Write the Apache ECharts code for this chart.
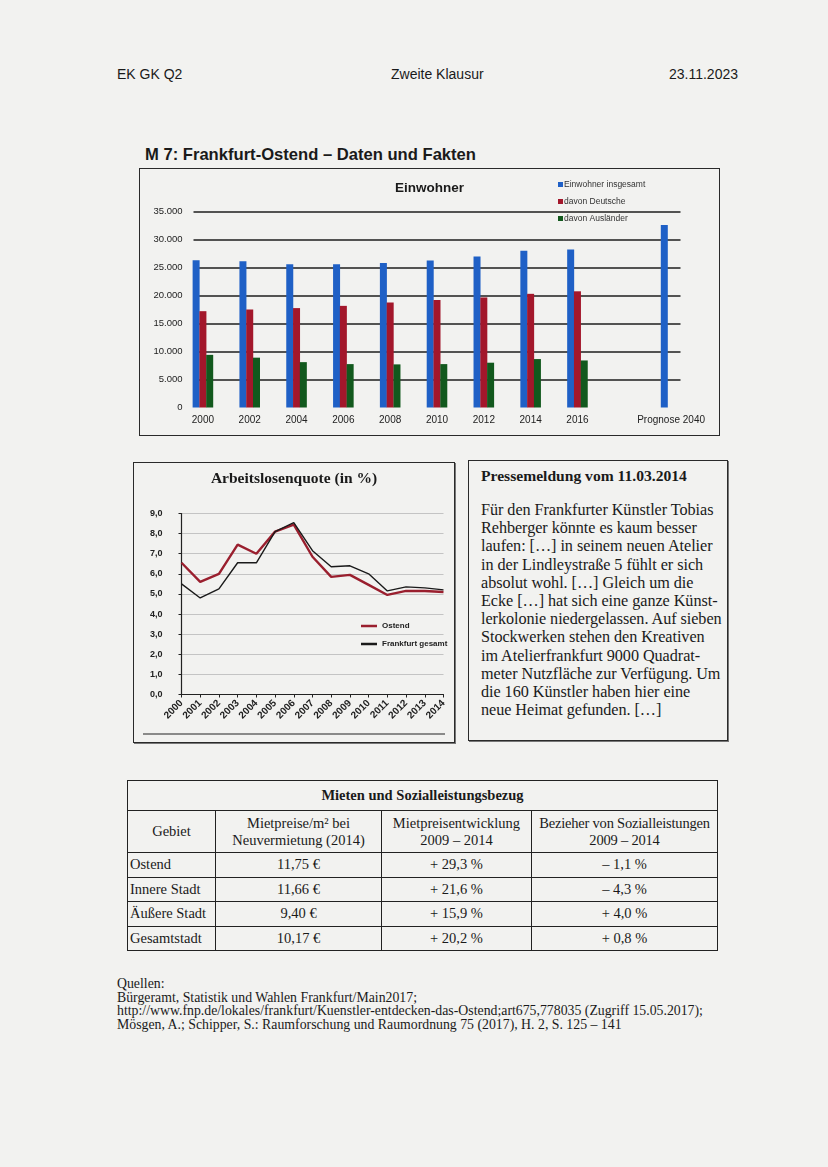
<!DOCTYPE html>
<html><head><meta charset="utf-8">
<script src="https://cdn.jsdelivr.net/npm/echarts@6/dist/echarts.min.js"></script>
<style>
html,body{margin:0;padding:0;}
body{width:828px;height:1167px;background:#f2f2f0;position:relative;overflow:hidden;font-family:'Liberation Sans',Arial,sans-serif;color:#1a1a1a;}
.abs{position:absolute;white-space:nowrap;}
.hdr{font-size:14px;top:66px;}
#barBox{position:absolute;left:139px;top:168px;width:581px;height:268px;border:1.5px solid #2a2a2a;box-sizing:border-box;}
#lineBox{position:absolute;left:133px;top:462px;width:322px;height:281px;border:1.5px solid #2a2a2a;box-sizing:border-box;box-shadow:1px 1px 0 #777;}
#press{position:absolute;left:468px;top:460px;width:260px;height:281px;border:1.5px solid #2a2a2a;box-sizing:border-box;box-shadow:1px 1px 0 #777;font-family:'Liberation Serif','Times New Roman',serif;padding:6px 0 0 12px;}
#press .t{font-weight:bold;font-size:15.6px;line-height:18px;}
#press .b{font-size:16.2px;line-height:18.2px;margin-top:16px;white-space:nowrap;letter-spacing:-0.05px;}
#tbl{position:absolute;left:127px;top:780px;border-collapse:collapse;font-family:'Liberation Serif','Times New Roman',serif;font-size:14.5px;table-layout:fixed;}
#tbl td{border:1.2px solid #222;padding:0 2px;text-align:center;line-height:17px;white-space:nowrap;}
#tbl td.l{text-align:left;}
#src{position:absolute;left:117px;top:977px;font-family:'Liberation Serif','Times New Roman',serif;font-size:13.8px;line-height:13.5px;white-space:nowrap;}
</style></head><body>
<div class="abs hdr" style="left:117px;">EK GK Q2</div>
<div class="abs hdr" style="left:391px;">Zweite Klausur</div>
<div class="abs hdr" style="right:90px;">23.11.2023</div>
<div class="abs" style="left:145px;top:145px;font-size:16.6px;font-weight:bold;">M 7: Frankfurt-Ostend – Daten und Fakten</div>
<div id="barBox"><div id="bar" style="width:100%;height:100%;"></div></div>
<div id="lineBox"><div id="line" style="width:100%;height:100%;"></div></div>
<div id="press"><div class="t">Pressemeldung vom 11.03.2014</div><div class="b" id="pressBody"></div></div>
<table id="tbl"></table>
<div id="src"></div>
<script>
// ---- Einwohner (bar chart) ----
const popCategories = ['2000','2002','2004','2006','2008','2010','2012','2014','2016','','Prognose 2040'];
const popTotal   = [26300, 26100, 25600, 25600, 25800, 26250, 26950, 28000, 28200, null, 32600];
const popGerman  = [17200, 17500, 17750, 18150, 18750, 19200, 19650, 20300, 20750, null, null];
const popForeign = [9400, 8900, 8100, 7750, 7700, 7750, 8000, 8650, 8400, null, null];
const popSeriesNames = ['Einwohner insgesamt','davon Deutsche','davon Ausländer'];

// ---- Arbeitslosenquote (line chart) ----
const uYears = ['2000','2001','2002','2003','2004','2005','2006','2007','2008','2009','2010','2011','2012','2013','2014'];
const uOstend    = [6.55, 5.6, 6.0, 7.45, 7.0, 8.1, 8.45, 6.85, 5.85, 5.95, 5.45, 4.95, 5.15, 5.15, 5.1];
const uFrankfurt = [5.5, 4.8, 5.25, 6.55, 6.55, 8.1, 8.55, 7.15, 6.35, 6.4, 6.0, 5.15, 5.35, 5.3, 5.2];
const uSeriesNames = ['Ostend','Frankfurt gesamt'];

// ---- Table ----
const tblRegions = ['Ostend','Innere Stadt','Äußere Stadt','Gesamtstadt'];
const tblRent    = ['11,75 €','11,66 €','9,40 €','10,17 €'];
const tblRentDev = ['+ 29,3 %','+ 21,6 %','+ 15,9 %','+ 20,2 %'];
const tblWelfare = ['– 1,1 %','– 4,3 %','+ 4,0 %','+ 0,8 %'];

// ---- Texts ----
const pressLines = [
 'Für den Frankfurter Künstler Tobias',
 'Rehberger könnte es kaum besser',
 'laufen: […] in seinem neuen Atelier',
 'in der Lindleystraße 5 fühlt er sich',
 'absolut wohl. […] Gleich um die',
 'Ecke […] hat sich eine ganze Künst-',
 'lerkolonie niedergelassen. Auf sieben',
 'Stockwerken stehen den Kreativen',
 'im Atelierfrankfurt 9000 Quadrat-',
 'meter Nutzfläche zur Verfügung. Um',
 'die 160 Künstler haben hier eine',
 'neue Heimat gefunden. […]'
];
const sourceLines = [
 'Quellen:',
 'Bürgeramt, Statistik und Wahlen Frankfurt/Main2017;',
 'http://www.fnp.de/lokales/frankfurt/Kuenstler-entdecken-das-Ostend;art675,778035 (Zugriff 15.05.2017);',
 'Mösgen, A.; Schipper, S.: Raumforschung und Raumordnung 75 (2017), H. 2, S. 125 – 141'
];

document.getElementById('pressBody').innerHTML = pressLines.join('<br>');
document.getElementById('src').innerHTML = sourceLines.join('<br>');

// table
(function(){
  let h = '<colgroup><col style="width:88px"><col style="width:166px"><col style="width:150px"><col style="width:186px"></colgroup>';
  h += '<tr style="height:30px"><td colspan="4" style="font-weight:bold">Mieten und Sozialleistungsbezug</td></tr>';
  h += '<tr style="height:42px"><td>Gebiet</td><td>Mietpreise/m² bei<br>Neuvermietung (2014)</td><td>Mietpreisentwicklung<br>2009 – 2014</td><td style="letter-spacing:-0.2px">Bezieher von Sozialleistungen<br>2009 – 2014</td></tr>';
  for (let i=0;i<tblRegions.length;i++){
    h += '<tr style="height:24.5px"><td class="l">'+tblRegions[i]+'</td><td>'+tblRent[i]+'</td><td>'+tblRentDev[i]+'</td><td>'+tblWelfare[i]+'</td></tr>';
  }
  document.getElementById('tbl').innerHTML = h;
})();

const dots = v => String(v).replace(/\B(?=(\d{3})+(?!\d))/g,'.');

const bar = echarts.init(document.getElementById('bar'));
bar.setOption({
  animation:false,
  title:{text:'Einwohner',left:'center',top:7,textStyle:{fontSize:13.5,fontWeight:'bold',color:'#1a1a1a',fontFamily:'Liberation Sans'}},
  legend:{orient:'vertical',left:413,top:6,itemWidth:5,itemHeight:5,itemGap:8,icon:'rect',
    textStyle:{fontSize:8.5,color:'#333',fontFamily:'Liberation Sans',padding:[0,0,0,-4]},data:popSeriesNames},
  grid:[
    {left:53.5,right:38.5,top:42.5,bottom:27.5,outerBoundsMode:'none'},
    {left:39.5,right:24.5,top:42.5,bottom:27.5,outerBoundsMode:'none'}
  ],
  xAxis:[
    {type:'category',gridIndex:0,data:popCategories,show:false},
    {type:'category',gridIndex:1,data:popCategories,axisLine:{show:false},axisTick:{show:false},
      axisLabel:{fontSize:10,color:'#222',margin:8,fontFamily:'Liberation Sans',interval:0}}
  ],
  yAxis:[
    {type:'value',gridIndex:0,min:0,max:35000,interval:5000,
      axisLabel:{fontSize:9.5,color:'#222',margin:11,formatter:dots,fontFamily:'Liberation Sans'},
      splitLine:{lineStyle:{color:'#1e1e1e',width:1.5},showMinLine:false}},
    {type:'value',gridIndex:1,min:0,max:35000,interval:5000,show:false,splitLine:{show:false}}
  ],
  series:[
    {name:popSeriesNames[0],type:'bar',xAxisIndex:1,yAxisIndex:1,data:popTotal,barWidth:7,barGap:'-3%',itemStyle:{color:'#1f60c6'}},
    {name:popSeriesNames[1],type:'bar',xAxisIndex:1,yAxisIndex:1,data:popGerman,barWidth:7,barGap:'-3%',itemStyle:{color:'#a3172b'}},
    {name:popSeriesNames[2],type:'bar',xAxisIndex:1,yAxisIndex:1,data:popForeign,barWidth:7,barGap:'-3%',itemStyle:{color:'#12591d'}}
  ]
});

const line = echarts.init(document.getElementById('line'));
line.setOption({
  animation:false,
  title:{text:'Arbeitslosenquote (in %)',left:'center',top:3,textStyle:{fontSize:15.5,fontWeight:'bold',color:'#1a1a1a',fontFamily:'Liberation Serif'}},
  legend:{orient:'vertical',left:222,top:154,itemWidth:16,itemHeight:2.5,itemGap:10,icon:'rect',
    textStyle:{fontSize:8,fontWeight:'bold',color:'#222',fontFamily:'Liberation Sans'},data:uSeriesNames},
  grid:{left:47.5,right:10.5,top:50.5,bottom:47.5,outerBoundsMode:'none'},
  xAxis:{type:'category',data:uYears,boundaryGap:false,
    axisLine:{lineStyle:{color:'#222',width:1.2}},axisTick:{show:true,length:3,lineStyle:{color:'#222'}},
    axisLabel:{rotate:45,fontSize:10,fontWeight:'bold',color:'#222',margin:7,fontFamily:'Liberation Sans',interval:0}},
  yAxis:{type:'value',min:0,max:9,interval:1,
    axisLine:{show:true,lineStyle:{color:'#222',width:1.2}},axisTick:{show:true,length:3,lineStyle:{color:'#222'}},
    axisLabel:{fontSize:9,fontWeight:'bold',color:'#222',margin:19,fontFamily:'Liberation Sans',formatter:v=>v.toFixed(1).replace('.',',')},
    splitLine:{lineStyle:{color:'#c4c4c4',width:1}}},
  graphic:[{type:'line',shape:{x1:9,y1:271,x2:311,y2:271},style:{stroke:'#222',lineWidth:1.2}}],
  series:[
    {name:uSeriesNames[0],type:'line',data:uOstend,symbol:'none',lineStyle:{color:'#9a1f2e',width:2.4},itemStyle:{color:'#9a1f2e'}},
    {name:uSeriesNames[1],type:'line',data:uFrankfurt,symbol:'none',lineStyle:{color:'#1a1a1a',width:1.4},itemStyle:{color:'#1a1a1a'}}
  ]
});
</script>
</body></html>
